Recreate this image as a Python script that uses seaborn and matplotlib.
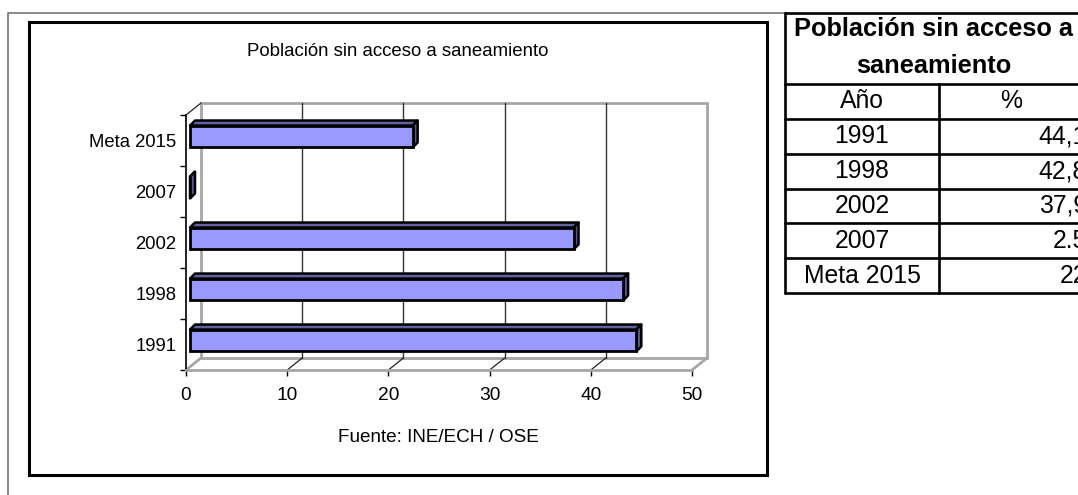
import numpy as np
import pandas as pd
import matplotlib
matplotlib.use("Agg")
import matplotlib.pyplot as plt
import seaborn as sns
from matplotlib.patches import Polygon, Rectangle
from matplotlib.lines import Line2D

# ---------------- data ----------------
categories = ["Meta 2015", "2007", "2002", "1998", "1991"]   # top to bottom
values = [22.0, 0.0, 37.9, 42.8, 44.1]                        # bar lengths as drawn
x_ticks = [0, 10, 20, 30, 40, 50]
chart_title = "Población sin acceso a saneamiento"
source_note = "Fuente: INE/ECH / OSE"
table_title = ["Población sin acceso a", "saneamiento"]
table_header = ["Año", "%"]
table_years = ["1991", "1998", "2002", "2007", "Meta 2015"]
table_pct = ["44,1", "42,8", "37,9", "2.5", "22"]

# ---------------- figure ----------------
W, H = 1078, 495
DPI = 100
sns.set_theme(style="white")
plt.rcParams['font.family'] = ['Liberation Sans', 'DejaVu Sans']

fig = plt.figure(figsize=(W / DPI, H / DPI), dpi=DPI)
fig.patch.set_facecolor("white")


def fx(px):
    return px / W


def fy(py):
    return 1 - py / H


# front plane of the 3D plot
ax = fig.add_axes([fx(186), fy(370), (692 - 186) / W, (370 - 115) / H])
ax.patch.set_visible(False)
df = pd.DataFrame({"cat": categories, "val": values})
sns.barplot(data=df, x="val", y="cat", orient="h", color="#9999FF",
            width=0.43, saturation=1, edgecolor="black", linewidth=2,
            ax=ax, zorder=6)
ax.set_xlim(0, 50)
ax.set_ylim(len(categories) - 0.5, -0.5)
ax.set_xlabel("")
ax.set_ylabel("")


def px_off(dx, dy):
    inv = ax.transData.inverted()
    p0 = inv.transform((0, 0))
    p1 = inv.transform((dx, dy))
    return p1 - p0


ymin, ymax = -0.5, len(categories) - 0.5
wdx, wdy = px_off(15, 12)

# back wall
ax.add_patch(Rectangle((0 + wdx, ymin + wdy), 50, ymax - ymin, facecolor="white",
                       edgecolor="#a6a6a6", lw=2, clip_on=False, zorder=1))
for t in x_ticks[1:-1]:
    ax.plot([t + wdx, t + wdx], [ymin + wdy, ymax + wdy], color="#333333",
            lw=1, clip_on=False, zorder=2)
# floor diagonals
for t in x_ticks:
    col = "#a6a6a6" if t in (x_ticks[0], x_ticks[-1]) else "#222222"
    lw = 2 if t in (x_ticks[0], x_ticks[-1]) else 0.9
    ax.plot([t, t + wdx], [ymax, ymax + wdy], color=col, lw=lw,
            clip_on=False, zorder=2)
ax.plot([0, wdx], [ymin, ymin + wdy], color="#222222", lw=0.9,
        clip_on=False, zorder=2)

# 3D bars
bdx, bdy = px_off(4, 4)
ddx, ddy = px_off(5, 5)
for p in list(ax.patches):
    if not hasattr(p, "get_width") or p.get_facecolor()[2] < 0.9:
        continue
    x0, y0, w, h = p.get_x(), p.get_y(), p.get_width(), p.get_height()
    if h > 1:
        continue
    x0 += bdx
    y0 += bdy
    p.set_x(x0)
    p.set_y(y0)
    p.set_clip_on(False)
    top = Polygon([(x0, y0), (x0 + w, y0), (x0 + w + ddx, y0 + ddy),
                   (x0 + ddx, y0 + ddy)], closed=True, facecolor="#62629E",
                  edgecolor="black", lw=1.8, clip_on=False, zorder=5,
                  joinstyle="round")
    side = Polygon([(x0 + w, y0), (x0 + w + ddx, y0 + ddy),
                    (x0 + w + ddx, y0 + h + ddy), (x0 + w, y0 + h)],
                   closed=True, facecolor="#56568F", edgecolor="black",
                   lw=1.8, clip_on=False, zorder=5, joinstyle="round")
    ax.add_patch(top)
    ax.add_patch(side)

# spines & ticks
ax.spines["top"].set_visible(False)
ax.spines["right"].set_visible(False)
ax.spines["left"].set_color("black")
ax.spines["left"].set_linewidth(1.2)
ax.spines["bottom"].set_color("#a6a6a6")
ax.spines["bottom"].set_linewidth(2)
ax.set_xticks(x_ticks)
ax.set_xticklabels([str(t) for t in x_ticks])
ax.tick_params(axis="x", length=4, width=1, color="black", direction="out",
               labelsize=13.8, pad=8, bottom=True)
ax.set_yticks(range(len(categories)))
ax.set_yticklabels(categories)
ax.set_yticks(np.arange(ymin, ymax + 0.01, 1), minor=True)
ax.tick_params(axis="y", which="major", length=0, labelsize=13.3, pad=7)
ax.tick_params(axis="y", which="minor", length=4, width=1, color="black",
               direction="out", left=True)
for lab in ax.get_xticklabels() + ax.get_yticklabels():
    lab.set_color("black")

# chart title & note
fig.text(fx(398), fy(51), chart_title, ha="center", va="center", fontsize=13.4,
         color="black")
fig.text(fx(438), fy(438), source_note, ha="center", va="center", fontsize=13.6,
         color="black")

# chart frame and outer frame
fig.add_artist(Rectangle((fx(29), fy(475)), (767 - 29) / W, (475 - 22) / H,
                         transform=fig.transFigure, fill=False,
                         edgecolor="black", lw=2.2))
fig.add_artist(Line2D([fx(8), fx(8), fx(786)], [fy(497), fy(12.5), fy(12.5)],
                      transform=fig.transFigure, color="#808080", lw=1.3))

# ---------------- table ----------------
TL, TM, TR = 785, 939, 1083
t_top, t_head = 13, 84
t_bot = 293
n_rows = len(table_years) + 1
row_h = (t_bot - t_head) / n_rows
lw_t = 1.9
hlines = [t_top, t_head] + [t_head + row_h * (i + 1) for i in range(n_rows)]
for yy in hlines:
    fig.add_artist(Line2D([fx(TL), fx(TR + 10)], [fy(yy), fy(yy)],
                          transform=fig.transFigure, color="black", lw=lw_t))
fig.add_artist(Line2D([fx(TL), fx(TL)], [fy(t_top), fy(t_bot)],
                      transform=fig.transFigure, color="black", lw=lw_t))
fig.add_artist(Line2D([fx(TM), fx(TM)], [fy(t_head), fy(t_bot)],
                      transform=fig.transFigure, color="black", lw=lw_t))

tcx = (TL + TR) / 2
fig.text(fx(tcx), fy(29), table_title[0], ha="center", va="center",
         fontsize=18.3, fontweight="bold", color="black")
fig.text(fx(tcx), fy(66), table_title[1], ha="center", va="center",
         fontsize=18.3, fontweight="bold", color="black")

c1 = (TL + TM) / 2
c2 = (TM + TR) / 2
rc = t_head + row_h / 2
fig.text(fx(c1), fy(rc), table_header[0], ha="center", va="center",
         fontsize=17.8, color="black")
fig.text(fx(c2), fy(rc), table_header[1], ha="center", va="center",
         fontsize=17.8, color="black")
for i, (yr, pc) in enumerate(zip(table_years, table_pct)):
    yc = t_head + row_h * (i + 1.5)
    fig.text(fx(c1), fy(yc), yr, ha="center", va="center", fontsize=17.8,
             color="black")
    fig.text(fx(1087), fy(yc), pc, ha="right", va="center", fontsize=17.8,
             color="black")

fig.savefig("out.png", dpi=DPI, facecolor="white")
